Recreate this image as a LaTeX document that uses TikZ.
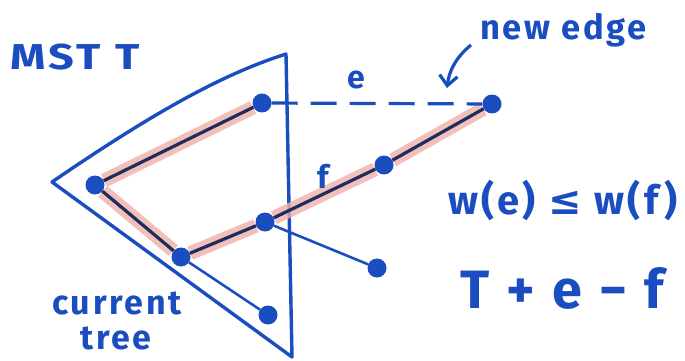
\documentclass[tikz,border=0pt]{standalone}
\usepackage{fontspec}
\setmainfont{Fira Sans}
\newfontfamily\symfont{DejaVu Sans}
\newfontfamily\wide[LetterSpace=8]{Fira Sans}
\usetikzlibrary{arrows.meta}
\definecolor{pen}{HTML}{1A4DBF}
\definecolor{ink}{HTML}{1F2D5C}
\definecolor{hl}{HTML}{EFB0AA}
\tikzset{
  vtx/.style={circle,fill=pen,inner sep=0pt,minimum size=19pt},
  tri/.style={draw=pen,line width=3.4pt,line join=round,line cap=round},
  treeedge/.style={draw=ink,line width=3.2pt},
  thinedge/.style={draw=pen,line width=2.6pt},
  glow/.style={draw=hl,line width=14pt,opacity=0.8,shorten <=10pt,shorten >=10pt},
  newedge/.style={draw=pen,line width=3.2pt,dash pattern=on 26pt off 13pt},
  lab/.style={text=pen,inner sep=0pt,font=\wide\bfseries\fontsize{36}{40}\selectfont},
}
\begin{document}
\begin{tikzpicture}[x=1pt,y=-1pt]
\useasboundingbox (0,0) rectangle (685,361);
% triangle
\coordinate (tl) at (52,182);
\coordinate (tt) at (286,54);
\coordinate (tb) at (292,357);
\draw[tri] (tl) .. controls (150,115) and (220,75) .. (tt) -- (tb) -- (tl);
% vertices
\coordinate (pA) at (262,103);
\coordinate (pB) at (95,185);
\coordinate (pC) at (181,257);
\coordinate (pD) at (265,222);
\coordinate (pE) at (384,165);
\coordinate (pF) at (492,104);
% highlights
\draw[glow] (pA) -- (pB);
\draw[glow] (pB) -- (pC);
\draw[glow] (pC) -- (pD);
\draw[glow] (pD) -- (pE);
\draw[glow] (pE) -- (pF);
% nodes
\node[vtx] (A) at (pA) {};
\node[vtx] (B) at (pB) {};
\node[vtx] (C) at (pC) {};
\node[vtx] (D) at (pD) {};
\node[vtx] (E) at (pE) {};
\node[vtx] (F) at (pF) {};
\node[vtx] (G) at (377,268) {};
\node[vtx] (H) at (268,315) {};
% edges
\draw[treeedge] (A) -- (B);
\draw[treeedge] (B) -- (C);
\draw[treeedge] (C) -- (D);
\draw[treeedge] (D) -- (E);
\draw[treeedge] (E) -- (F);
\draw[thinedge] (D) -- (G);
\draw[thinedge] (C) -- (H);
\draw[newedge] (A) -- (F);
% labels
\node[lab,font=\bfseries\fontsize{32}{34}\selectfont] (le) at (356,80) {e};
\node[lab,font=\bfseries\fontsize{32}{34}\selectfont] (lf) at (323,176) {f};
\node[lab,anchor=base west] (mst) at (10,70) {\scalebox{1.25}[1]{MST T}};
\node[lab,anchor=base west,font=\wide\bfseries\fontsize{34.5}{38}\selectfont] (ne) at (480,40) {new edge};
\coordinate (arrtip) at (447,88);
\draw[pen,line width=3.2pt,-{Straight Barb[length=10pt,width=18pt]}] (471,45) .. controls (455,58) and (449,72) .. (arrtip);
\node[lab,anchor=base west,font=\wide\bfseries\fontsize{34}{38}\selectfont] (ct1) at (52,314) {current};
\node[lab,anchor=base west,font=\wide\bfseries\fontsize{34}{38}\selectfont] (ct2) at (80,349) {tree};
\node[lab,anchor=base west,font=\wide\bfseries\fontsize{40}{44}\selectfont] (ineq) at (448,214) {w(e) {\symfont ≤} w(f)};
\node[lab,anchor=base west,font=\wide\bfseries\fontsize{54}{58}\selectfont] (tef) at (460,308) {T + e − f};
\end{tikzpicture}
\end{document}
